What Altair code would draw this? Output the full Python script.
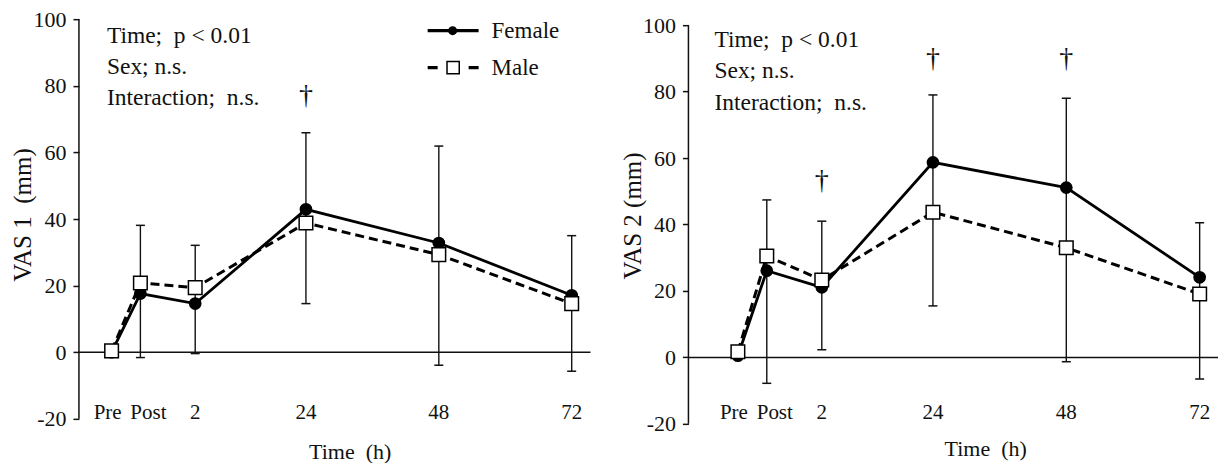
import altair as alt
import pandas as pd

FONT = "Liberation Serif, Times New Roman, Times, DejaVu Serif, serif"
INK = "#111111"

# ---------------- data ----------------
times = ["Pre", "Post", "2", "24", "48", "72"]
time_pos = [-11.1, -5.9, 4, 24, 48, 72]   # position of each time point on the time axis

vas1_female = [0.0, 17.6, 14.6, 42.9, 32.8, 17.1]
vas1_male = [0.4, 20.8, 19.4, 38.8, 29.3, 14.6]
vas1_err_hi = [38.1, 32.1, 65.9, 61.9, 35.0]      # Post..72
vas1_err_lo = [-1.6, -0.4, 14.6, -3.9, -5.7]

vas2_female = [0.5, 26.1, 21.1, 58.7, 51.1, 24.1]
vas2_male = [1.7, 30.5, 23.3, 43.7, 33.0, 19.1]
vas2_err_hi = [47.4, 41.0, 79.0, 78.0, 40.5]
vas2_err_lo = [-7.8, 2.3, 15.5, -1.3, -6.5]

vas1_dagger_times = ["24"]
vas1_dagger_y = [77]
vas2_dagger_times = ["2", "24", "48"]
vas2_dagger_y = [53.2, 89.9, 89.9]

stats_lines = ["Time;\u00a0 p < 0.01", "Sex; n.s.", "Interaction;\u00a0 n.s."]
legend_labels = ["Female", "Male"]
y_ticks = [-20, 0, 20, 40, 60, 80, 100]


def panel(female, male, err_hi, err_lo, dag_t, dag_y, ytitle, xdomain, width,
          ydomain, height, ann_x, ann_y, ann_lh, xtitle_x, xtitle_y, ytitle_y,
          legend=False):
    pos_of = dict(zip(times, time_pos))
    line_df = pd.DataFrame(
        [{"time": t, "pos": p, "value": v, "sex": "Female"} for t, p, v in zip(times, time_pos, female)]
        + [{"time": t, "pos": p, "value": v, "sex": "Male"} for t, p, v in zip(times, time_pos, male)]
    )
    err_df = pd.DataFrame({"pos": time_pos[1:], "lo": err_lo, "hi": err_hi})
    lab_df = pd.DataFrame({"pos": time_pos, "label": times})
    dag_df = pd.DataFrame({"pos": [pos_of[t] for t in dag_t], "value": dag_y, "label": ["\u2020"] * len(dag_t)})

    xsc = alt.Scale(domain=xdomain, nice=False, zero=False)
    ysc = alt.Scale(domain=ydomain, nice=False, zero=False)
    xax = alt.Axis(title="Time\u00a0 (h)", labels=False, ticks=False, domain=False, grid=False,
                   titleFont=FONT, titleFontSize=22, titleFontWeight="normal", titleColor=INK,
                   titleX=xtitle_x, titleY=xtitle_y, titleBaseline="middle")
    yax = alt.Axis(title=ytitle, values=y_ticks, grid=False, domain=False,
                   tickSize=6, tickWidth=1.5, tickColor=INK,
                   labelExpr="datum.value + ''",
                   labelFont=FONT, labelFontSize=22, labelColor=INK, labelPadding=7,
                   titleFont=FONT, titleFontSize=25, titleFontWeight="normal", titleColor=INK,
                   titlePadding=-3, titleY=ytitle_y)

    def X(field):
        return alt.X(field, scale=xsc, axis=xax)

    def Y(field):
        return alt.Y(field, scale=ysc, axis=yax)

    axis_line = alt.Chart(pd.DataFrame({"lo": [y_ticks[0]], "hi": [y_ticks[-1]]})).mark_rule(
        color=INK, strokeWidth=1.5).encode(x=alt.value(0), y=Y("lo:Q"), y2="hi:Q")
    zero_line = alt.Chart(pd.DataFrame({"value": [0]})).mark_rule(
        color=INK, strokeWidth=1.5).encode(x=alt.value(0), x2=alt.value(width), y=Y("value:Q"))

    err_rule = alt.Chart(err_df).mark_rule(color=INK, strokeWidth=1.4).encode(
        x=X("pos:Q"), y=Y("lo:Q"), y2="hi:Q")
    cap_hi = alt.Chart(err_df).mark_tick(orient="horizontal", size=9, thickness=1.5, color=INK, opacity=1).encode(
        x=X("pos:Q"), y=Y("hi:Q"))
    cap_lo = alt.Chart(err_df).mark_tick(orient="horizontal", size=9, thickness=1.5, color=INK, opacity=1).encode(
        x=X("pos:Q"), y=Y("lo:Q"))

    base = alt.Chart(line_df)
    f_line = base.transform_filter(alt.datum.sex == "Female").mark_line(
        color="black", strokeWidth=2.8).encode(x=X("pos:Q"), y=Y("value:Q"), order="pos:Q")
    m_line = base.transform_filter(alt.datum.sex == "Male").mark_line(
        color="black", strokeWidth=3, strokeDash=[9, 5]).encode(x=X("pos:Q"), y=Y("value:Q"), order="pos:Q")
    f_pts = base.transform_filter(alt.datum.sex == "Female").mark_point(
        shape="circle", filled=True, fill="black", stroke="black", size=115, opacity=1).encode(
        x=X("pos:Q"), y=Y("value:Q"))
    m_pts = base.transform_filter(alt.datum.sex == "Male").mark_point(
        shape="square", filled=True, fill="white", stroke="black", strokeWidth=1.5, size=185, opacity=1).encode(
        x=X("pos:Q"), y=Y("value:Q"))

    def xlabel(cond, dx):
        return alt.Chart(lab_df).transform_filter(cond).mark_text(
            font=FONT, fontSize=21, color=INK, baseline="middle", align="center", dx=dx).encode(
            x=X("pos:Q"), y=alt.value(394), text="label:N")

    lab_pre = xlabel(alt.datum.label == "Pre", -4)
    lab_post = xlabel(alt.datum.label == "Post", 8)
    lab_other = xlabel((alt.datum.label != "Pre") & (alt.datum.label != "Post"), 0)

    daggers = alt.Chart(dag_df).mark_text(font=FONT, fontSize=28, color=INK, baseline="middle").encode(
        x=X("pos:Q"), y=Y("value:Q"), text="label:N")

    ann = alt.Chart(pd.DataFrame({"k": [0]})).mark_text(
        text=stats_lines, font=FONT, fontSize=23.5, color=INK, align="left", baseline="alphabetic",
        lineHeight=ann_lh).encode(x=alt.value(ann_x), y=alt.value(ann_y))

    layers = [axis_line, zero_line, err_rule, cap_hi, cap_lo, f_line, m_line, f_pts, m_pts,
              lab_pre, lab_post, lab_other, daggers, ann]

    if legend:
        one = pd.DataFrame({"k": [0]})
        lg_f_line = alt.Chart(one).mark_rule(color="black", strokeWidth=3.2).encode(
            x=alt.value(349), x2=alt.value(400), y=alt.value(11.5))
        lg_f_pt = alt.Chart(one).mark_point(shape="circle", filled=True, fill="black", stroke="black",
                                            size=50, opacity=1).encode(x=alt.value(374), y=alt.value(11.5))
        lg_m_line = alt.Chart(one).mark_rule(color="black", strokeWidth=3.2, strokeDash=[10, 31]).encode(
            x=alt.value(349), x2=alt.value(400), y=alt.value(48.5))
        lg_m_pt = alt.Chart(one).mark_point(shape="square", filled=True, fill="white", stroke="black",
                                            strokeWidth=1.5, size=150, opacity=1).encode(
            x=alt.value(374.5), y=alt.value(48.5))
        lg_f_txt = alt.Chart(pd.DataFrame({"label": legend_labels[:1]})).mark_text(
            font=FONT, fontSize=23, color=INK, align="left", baseline="middle").encode(
            x=alt.value(413), y=alt.value(11.5), text="label:N")
        lg_m_txt = alt.Chart(pd.DataFrame({"label": legend_labels[1:]})).mark_text(
            font=FONT, fontSize=23, color=INK, align="left", baseline="middle").encode(
            x=alt.value(413), y=alt.value(48.5), text="label:N")
        layers += [lg_f_line, lg_m_line, lg_f_pt, lg_m_pt, lg_f_txt, lg_m_txt]

    return alt.layer(*layers).properties(width=width, height=height)


left = panel(vas1_female, vas1_male, vas1_err_hi, vas1_err_lo, vas1_dagger_times, vas1_dagger_y,
             "VAS 1\u00a0 (mm)", [-17, 75.4], 512, [-20, 100], 400,
             ann_x=28, ann_y=24, ann_lh=31, xtitle_x=271, xtitle_y=32.5, ytitle_y=195.5,
             legend=True)
right = panel(vas2_female, vas2_male, vas2_err_hi, vas2_err_lo, vas2_dagger_times, vas2_dagger_y,
              "VAS 2 (mm)", [-20, 75.3], 530, [-20, 101.8], 405,
              ann_x=26, ann_y=27.5, ann_lh=31.5, xtitle_x=297, xtitle_y=24.5, ytitle_y=196.5)

chart = alt.hconcat(left, right, spacing=29).properties(
    padding={"left": 3, "top": 0, "right": 0, "bottom": 0},
    background="white",
).configure_view(stroke=None)

chart.save("out.html", embed_options={"renderer": "svg", "actions": False})
